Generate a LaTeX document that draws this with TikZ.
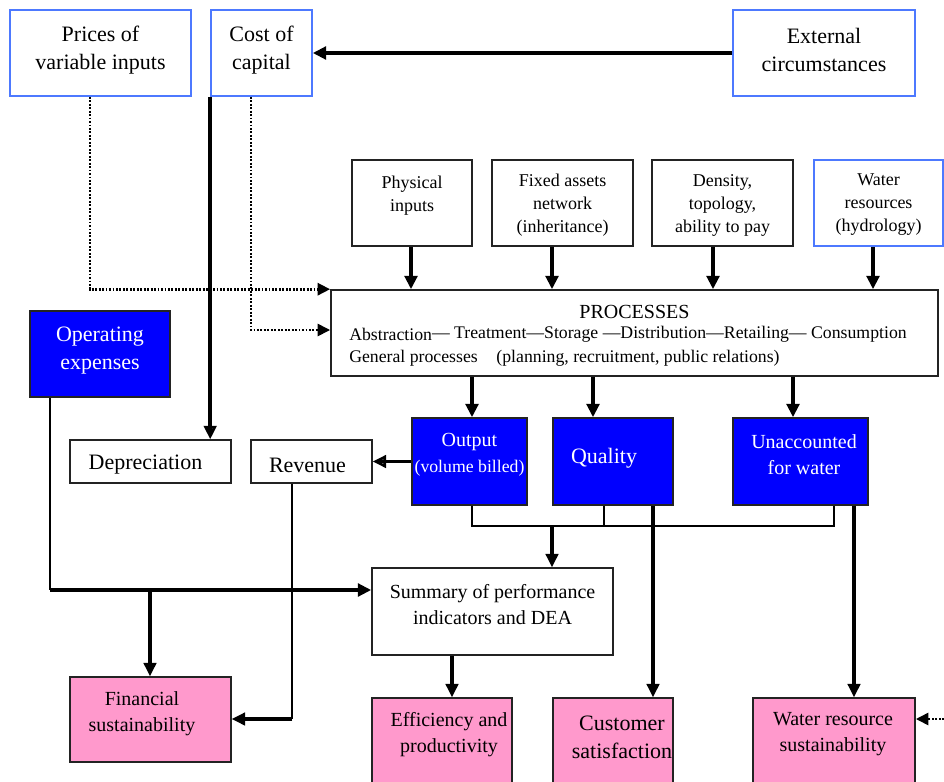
\documentclass[tikz,border=0pt]{standalone}
\usepackage{fontspec}
\setmainfont{Liberation Serif}
\usetikzlibrary{arrows.meta}

\definecolor{edgeblue}{RGB}{77,121,255}
\definecolor{boxblue}{RGB}{0,0,255}
\definecolor{boxpink}{RGB}{255,153,204}
\definecolor{edgegray}{RGB}{35,35,35}

\tikzset{
  anybox/.style={rectangle, inner sep=0pt, line width=1.2pt},
  lightbox/.style={anybox, draw=edgeblue, fill=white},
  plainbox/.style={anybox, draw=edgegray, fill=white},
  bluebox/.style={anybox, draw=edgegray, fill=boxblue},
  pinkbox/.style={anybox, draw=edgegray, fill=boxpink},
  txt/.style={align=center, inner sep=0pt},
  bigtxt/.style={txt, font=\fontsize{16.5}{21}\selectfont},
  midtxt/.style={txt, font=\fontsize{15}{19.5}\selectfont},
  smalltxt/.style={txt, font=\fontsize{13.5}{17.25}\selectfont},
  rowtxt/.style={inner sep=0pt, font=\fontsize{13.3}{16}\selectfont},
  thinline/.style={line width=1.1pt, draw=black},
  fillarr/.style={line width=2.6pt, -{Triangle[length=10pt,width=9.5pt]}},
  openarr/.style={line width=2.6pt,
    -{Triangle[open,length=10pt,width=9.5pt,line width=2pt]},
    postaction={draw,-,shorten >=3pt}},
  dotarr/.style={line width=2.2pt, dash pattern=on 1.4pt off 1.2pt,
    -{Triangle[length=9.5pt,width=9pt]}},
}

% #1 box style, #2 text style, #3 name, #4-#7 corners (x1,y1,x2,y2), #8 text centre, #9 text
\newcommand\diagbox[9]{%
  \node[#1, minimum width={(#6-#4)*0.75pt}, minimum height={(#7-#5)*0.75pt}]
    (#3) at ({(#4+#6)/2},{(#5+#7)/2}) {};
  \node[#2] (#3-t) at (#8) {#9};}

\begin{document}
\begin{tikzpicture}[x=0.75pt, y=-0.75pt]
\useasboundingbox (0,0) rectangle (944,781);
\clip (0,0) rectangle (944,781);
\fill[white] (0,0) rectangle (944,781);

% exogenous factors
\diagbox{lightbox}{bigtxt}{prices}{10}{10}{191}{96}{100.5,50}{Prices of\\variable inputs}
\diagbox{lightbox}{bigtxt}{cost}{211}{10}{312}{96}{261.5,50}{Cost of\\capital}
\diagbox{lightbox}{bigtxt}{ext}{733}{10}{915}{96}{824,50}{External\\circumstances}

% inputs to the processes
\diagbox{plainbox}{smalltxt}{phys}{352}{160}{472}{246}{412,195.5}{Physical\\inputs}
\diagbox{plainbox}{smalltxt}{fixed}{492}{160}{633}{246}{562.5,205}{Fixed assets\\network\\(inheritance)}
\diagbox{plainbox}{smalltxt}{dens}{652}{160}{793}{246}{722.5,205}{Density,\\topology,\\ability to pay}
\diagbox{lightbox}{smalltxt}{waterres}{814}{160}{943}{246}{878.5,205}{Water\\resources\\(hydrology)}

% processes
\node[plainbox, minimum width={607*0.75pt}, minimum height={86*0.75pt}] (procs) at (634.5,333) {};
\node[inner sep=0pt, font=\fontsize{15}{18}\selectfont, anchor=base] (procs-title) at (634.5,318) {PROCESSES};
\node[rowtxt, anchor=base west] (procs-chain) at (349,338)
  {\raisebox{-2pt}{Abstraction}— Treatment—Storage —Distribution—Retailing— Consumption};
\node[rowtxt, anchor=base west] (procs-general) at (349,362)
  {General processes\hspace{14pt}(planning, recruitment, public relations)};

% costs, outputs
\diagbox{bluebox}{bigtxt, text=white}{opex}{30}{311}{170}{397}{100,351}{Operating\\expenses}
\diagbox{plainbox}{bigtxt}{deprec}{70}{440}{231}{483}{145.5,465}{Depreciation}
\diagbox{plainbox}{bigtxt}{revenue}{251}{440}{372}{483}{307.5,465}{Revenue}
\diagbox{bluebox}{midtxt, text=white}{output}{412}{418}{527}{505}{469.5,455}{Output\\{\fontsize{13.3}{16}\selectfont(volume billed)}}
\diagbox{bluebox}{bigtxt, text=white}{quality}{553}{418}{673}{505}{604,458}{Quality}
\diagbox{bluebox}{midtxt, text=white}{unacc}{733}{418}{868}{505}{804,455}{Unaccounted\\for water}
\diagbox{plainbox}{midtxt}{summary}{372}{568}{613}{655}{492.5,605}{Summary of performance\\indicators and DEA}

% outcomes
\diagbox{pinkbox}{midtxt}{financial}{70}{677}{231}{762}{142,714}{Financial\\sustainability}
\diagbox{pinkbox}{midtxt}{eff}{372}{698}{512}{792}{449,735}{Efficiency and\\productivity}
\diagbox{pinkbox}{bigtxt}{customer}{553}{698}{673}{792}{622,737}{Customer\\satisfaction}
\diagbox{pinkbox}{midtxt}{wrs}{753}{698}{915}{792}{833,734}{Water resource\\sustainability}

% connectors from the exogenous factors
\draw[fillarr] (ext.west) -- (cost.east);
\draw[dotarr] (90,0 |- prices.south) |- (procs.north west);
\draw[dotarr] (251,0 |- cost.south) |- (procs.west |- 0,330);
\draw[openarr] (cost.south west) -- (cost.south west |- deprec.north);

% inputs into the processes
\draw[fillarr] (411,0 |- phys.south) -- (411,0 |- procs.north);
\draw[fillarr] (552,0 |- fixed.south) -- (552,0 |- procs.north);
\draw[fillarr] (713,0 |- dens.south) -- (713,0 |- procs.north);
\draw[fillarr] (873,0 |- waterres.south) -- (873,0 |- procs.north);

% processes to their outputs
\draw[fillarr] (472,0 |- procs.south) -- (472,0 |- output.north);
\draw[fillarr] (593,0 |- procs.south) -- (593,0 |- quality.north);
\draw[fillarr] (793,0 |- procs.south) -- (793,0 |- unacc.north);
\draw[openarr] (output.west) -- (revenue.east);

% outputs merge into the summary
\coordinate (merge) at (552,526);
\draw[thinline] (472,0 |- output.south) -- (472,526) -- (834,526) -- (834,0 |- unacc.south);
\draw[thinline] (604,0 |- quality.south) -- (604,526);
\draw[openarr] (merge) -- (merge |- summary.north);

% direct links to the outcomes
\draw[openarr] (653,0 |- quality.south) -- (653,0 |- customer.north);
\draw[openarr] (854,0 |- unacc.south) -- (854,0 |- wrs.north);
\draw[openarr] (452,0 |- summary.south) -- (452,0 |- eff.north);

% operating expenses and revenue
\coordinate (opexbend) at (50,590);
\coordinate (finsplit) at (150,590);
\draw[thinline] (50,0 |- opex.south) -- (opexbend);
\draw[fillarr] (opexbend) -- (summary.west |- opexbend);
\draw[openarr] (finsplit) -- (finsplit |- financial.north);
\coordinate (revbend) at (292,719);
\draw[thinline] (292,0 |- revenue.south) -- (revbend);
\draw[openarr] (revbend) -- (financial.east |- revbend);

% outside influence on water resources
\coordinate (wrsin) at (944,719);
\draw[dotarr] (wrsin) -- (wrs.east |- wrsin);
\end{tikzpicture}
\end{document}
